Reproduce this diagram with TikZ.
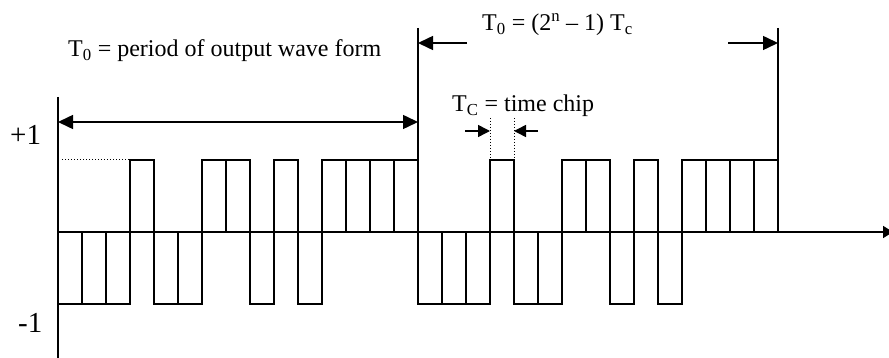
\documentclass[tikz,border=0pt]{standalone}
\usepackage{fontspec}
\setmainfont{Liberation Serif}
\usetikzlibrary{arrows.meta}
\begin{document}
\begin{tikzpicture}[x=1pt,y=-1pt,
  wave/.style={line width=1.5pt},
  axisline/.style={line width=1.7pt},
  bigtip/.style={-{Triangle[length=15pt,width=14pt]}},
  bothtip/.style={{Triangle[length=15pt,width=14pt]}-{Triangle[length=15pt,width=14pt]}},
  smalltip/.style={-{Triangle[length=12pt,width=12pt]}},
  axistip/.style={-{Triangle[length=10pt,width=12pt]}},
  dotline/.style={line width=1pt, dotted},
  lbl/.style={inner sep=0pt, anchor=base west, font=\fontsize{24}{28}\selectfont},
  lvl/.style={inner sep=0pt, anchor=base west, font=\fontsize{29}{34}\selectfont}]
\useasboundingbox (0,0) rectangle (889,358);

% waveform: two periods of the 15-chip sequence
\foreach \p in {0,1} {
  \foreach \b [count=\i from 0] in {0,0,0,1,0,0,1,1,0,1,0,1,1,1,1} {
    \pgfmathsetmacro\xa{58+360*\p+24*\i}
    \pgfmathsetmacro\lv{\b==1 ? 160 : 304}
    \draw[wave] (\xa,232) rectangle ({\xa+24},\lv);
  }
}

% coordinates
\coordinate (ytop) at (58,97);
\coordinate (ybot) at (58,358);
\coordinate (origin) at (58,232);
\coordinate (xend) at (893,232);
\coordinate (p0top) at (418,28);
\coordinate (p0bot) at (418,304);
\coordinate (p1top) at (778,28);
\coordinate (p1bot) at (778,232);
\coordinate (da) at (58,122);
\coordinate (db) at (418,122);
\coordinate (la) at (467,43);
\coordinate (lb) at (418,43);
\coordinate (ra) at (728,43);
\coordinate (rb) at (778,43);
\coordinate (ca1) at (465,131);
\coordinate (cb1) at (490,131);
\coordinate (ca2) at (538,131);
\coordinate (cb2) at (514,131);
\coordinate (dv1t) at (490,118);
\coordinate (dv1b) at (490,160);
\coordinate (dv2t) at (514,118);
\coordinate (dv2b) at (514,160);
\coordinate (hd1) at (62,160);
\coordinate (hd2) at (130,160);

% axes and period markers
\draw[axisline] (ytop) -- (ybot);
\draw[axisline,axistip] (origin) -- (xend);
\draw[axisline] (p0top) -- (p0bot);
\draw[axisline] (p1top) -- (p1bot);

% arrows
\draw[line width=1.5pt,bothtip] (da) -- (db);
\draw[line width=1.5pt,bigtip] (la) -- (lb);
\draw[line width=1.5pt,bigtip] (ra) -- (rb);
\draw[line width=1.5pt,smalltip] (ca1) -- (cb1);
\draw[line width=1.5pt,smalltip] (ca2) -- (cb2);

% dotted guides
\draw[dotline] (dv1t) -- (dv1b);
\draw[dotline] (dv2t) -- (dv2b);
\draw[dotline] (hd1) -- (hd2);

% labels
\node[lbl] (tperiod) at (68,57) {T\textsubscript{0} = period of output wave form};
\node[lbl] (tform) at (482,31) {T\textsubscript{0} = (2\textsuperscript{n} -- 1) T\textsubscript{c}};
\node[lbl] (tchip) at (452,112) {T\textsubscript{C} = time chip};
\node[lvl] (plus) at (10,145) {+1};
\node[lvl] (minus) at (18,332) {-1};
\end{tikzpicture}
\end{document}
